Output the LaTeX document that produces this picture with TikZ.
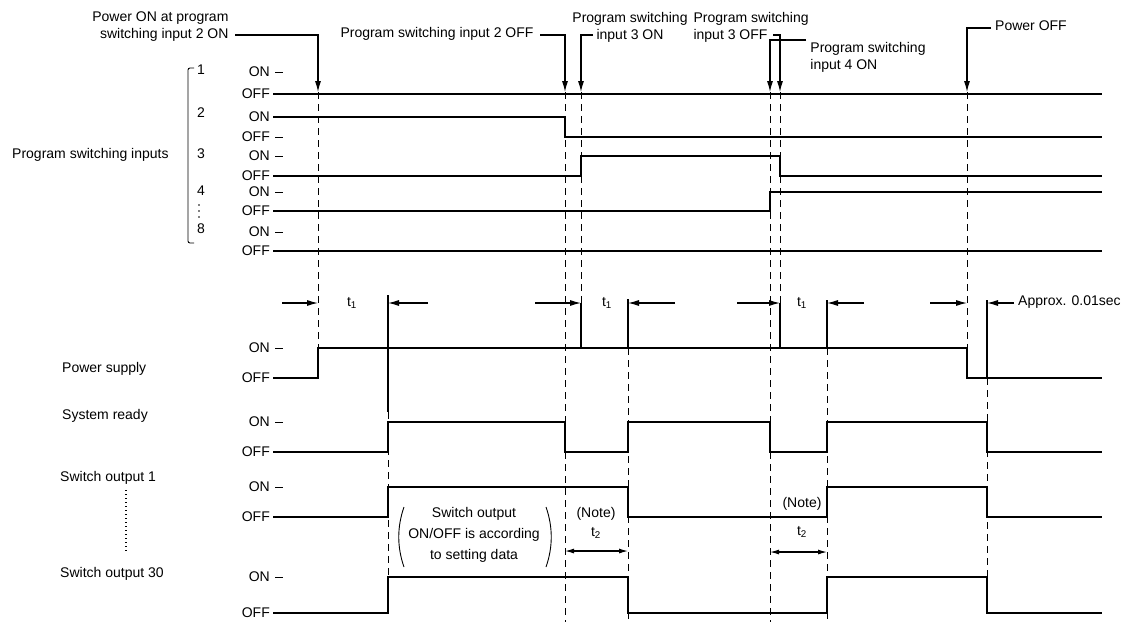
\documentclass[tikz,border=0pt]{standalone}
\usepackage{fontspec}
\setmainfont{Liberation Sans}
\usetikzlibrary{arrows.meta, positioning}

\begin{document}
\begin{tikzpicture}[
    x=1pt, y=-1pt,
    font=\fontsize{14}{17}\selectfont,
    signal/.style={line width=1.3pt},
    guide/.style={line width=1pt, dash pattern=on 7pt off 5pt},
    marker/.style={line width=1.3pt},
    pointer/.style={line width=1.1pt, -{Latex[length=11pt,width=6pt]}},
    span/.style={line width=1.1pt, {Latex[length=9pt,width=5pt]}-{Latex[length=9pt,width=5pt]}},
    level/.style={anchor=east, inner sep=0pt},
    tag/.style={anchor=mid west, inner sep=0pt}
]

\useasboundingbox (0,0) rectangle (1122,625);

% Event points
\coordinate (evPwrOn) at (318,92);
\coordinate (evIn2Off) at (565,92);
\coordinate (evIn3On) at (581,92);
\coordinate (evIn4On) at (770,92);
\coordinate (evIn3Off) at (780,92);
\coordinate (evPwrOff) at (967,92);

% Left labels
\node[tag] (inputsLbl) at (12,156) {Program switching inputs};
\node[tag] (powerLbl) at (62,370) {Power supply};
\node[tag] (readyLbl) at (62,417) {System ready};
\node[tag] (outOneLbl) at (60,479) {Switch output 1};
\node[tag] (outLastLbl) at (60,575) {Switch output 30};
\draw[line width=1.4pt, dash pattern=on 1.4pt off 2.6pt] (126,490) -- (126,553);

% Input numbers with bracket
\draw[line width=0.9pt, rounded corners=2pt] (194,68) -- (188,68) -- (188,243) -- (194,243);
\foreach \y/\n in {72/1, 115/2, 156/3, 193/4, 231/8}
    \node[tag] (inNum\n) at (197,\y) {\n};
\foreach \y in {205,211,217}
    \fill (199,\y) circle (0.9pt);

% Level labels
\foreach \y/\t in {72/ON, 94/OFF, 117/ON, 137/OFF, 156/ON, 176/OFF, 192/ON, 211/OFF, 232/ON, 251/OFF,
                   348/ON, 378/OFF, 422/ON, 452/OFF, 487/ON, 517/OFF, 577/ON, 613/OFF}
    \node[level] (lvl\y) at (270,\y) {\t};
\foreach \y in {72, 137, 156, 192, 232, 348, 422, 487, 577}
    \draw[line width=1pt] (275,\y) -- (283,\y);

% Input signals
\draw[signal] (273,94) -- (1102,94);
\draw[signal] (273,117) -- (565,117) -- (565,137) -- (1102,137);
\draw[signal] (273,176) -- (581,176) -- (581,156) -- (780,156) -- (780,176) -- (1102,176);
\draw[signal] (273,211) -- (770,211) -- (770,192) -- (1102,192);
\draw[signal] (273,251) -- (1102,251);

% Output signals
\draw[signal] (273,378) -- (318,378) -- (318,348) -- (967,348) -- (967,378) -- (1102,378);
\draw[signal] (273,452) -- (388,452) -- (388,422) -- (565,422) -- (565,452) -- (628,452) -- (628,422)
    -- (770,422) -- (770,452) -- (827,452) -- (827,422) -- (987,422) -- (987,452) -- (1102,452);
\draw[signal] (273,517) -- (388,517) -- (388,487) -- (628,487) -- (628,517) -- (827,517) -- (827,487)
    -- (987,487) -- (987,517) -- (1102,517);
\draw[signal] (273,613) -- (388,613) -- (388,577) -- (628,577) -- (628,613) -- (827,613) -- (827,577)
    -- (987,577) -- (987,613) -- (1102,613);

% Guide lines
\draw[guide] (evPwrOn) -- (318,348);
\draw[guide] (388,412) -- (388,613);
\draw[guide] (evIn2Off) -- (565,622);
\draw[guide] (evIn3On) -- (581,303);
\draw[guide] (628,348) -- (628,622);
\draw[guide] (evIn4On) -- (770,622);
\draw[guide] (evIn3Off) -- (780,303);
\draw[guide] (827,348) -- (827,622);
\draw[guide] (evPwrOff) -- (967,348);
\draw[guide] (987,378) -- (987,613);

% Delay markers
\draw[marker] (388,295) -- (388,412);
\draw[marker] (581,303) -- (581,348);
\draw[marker] (628,299) -- (628,348);
\draw[marker] (780,303) -- (780,348);
\draw[marker] (827,300) -- (827,348);
\draw[marker] (987,300) -- (987,378);

\node (tOneA) at (352,303) {t\textsubscript{1}};
\node (tOneB) at (607,303) {t\textsubscript{1}};
\node (tOneC) at (802,303) {t\textsubscript{1}};
\node[tag] (approxTxt) at (1018,303) {Approx. 0.01sec};

\draw[pointer] (282,303) -- (318,303);
\draw[pointer] (428,303) -- (388,303);
\draw[pointer] (535,303) -- (581,303);
\draw[pointer] (675,303) -- (628,303);
\draw[pointer] (737,303) -- (780,303);
\draw[pointer] (864,303) -- (827,303);
\draw[pointer] (930,303) -- (967,303);
\draw[pointer] ([xshift=-4pt]approxTxt.mid west) -- (987,303);

% Top annotations
\node[align=right, anchor=east] (pwrOnTxt) at (232,27) {Power ON at program\\switching input 2 ON};
\node[anchor=mid east] (in2OffTxt) at (537,35) {Program switching input 2 OFF};
\node[align=center] (in3OnTxt) at (630,27) {Program switching\\input 3 ON};
\node[align=left, anchor=west] (in3OffTxt) at (690,27) {Program switching\\input 3 OFF};
\node[align=left] (in4OnTxt) at (868,57) {Program switching\\input 4 ON};
\node[tag] (pwrOffTxt) at (995,28) {Power OFF};

\coordinate (in3OnTail) at (593,35);
\coordinate (in3OffTail) at (773,35);
\coordinate (in4OnTail) at (806,40);

\draw[pointer] ([xshift=3pt, yshift=-8pt]pwrOnTxt.east) -| (evPwrOn);
\draw[pointer] ([xshift=3pt]in2OffTxt.mid east) -| (evIn2Off);
\draw[pointer] (in3OnTail) -| (evIn3On);
\draw[pointer] (in3OffTail) -| (evIn3Off);
\draw[pointer] (in4OnTail) -| (evIn4On);
\draw[pointer] ([xshift=-4pt]pwrOffTxt.mid west) -| (evPwrOff);

% Switch output notes
\node[align=center, font=\fontsize{14}{21}\selectfont] (settingTxt) at (474,535)
    {Switch output\\ON/OFF is according\\to setting data};
\draw[line width=0.9pt] (404,507) .. controls (397,527) and (397,547) .. (404,567);
\draw[line width=0.9pt] (546,507) .. controls (553,527) and (553,547) .. (546,567);

\node (noteA) at (596,514) {(Note)};
\node (tTwoA) at (596,533) {t\textsubscript{2}};
\node (noteB) at (802,504) {(Note)};
\node (tTwoB) at (802,532) {t\textsubscript{2}};
\draw[span] (565,551) -- (628,551);
\draw[span] (770,552) -- (827,552);

\end{tikzpicture}
\end{document}
